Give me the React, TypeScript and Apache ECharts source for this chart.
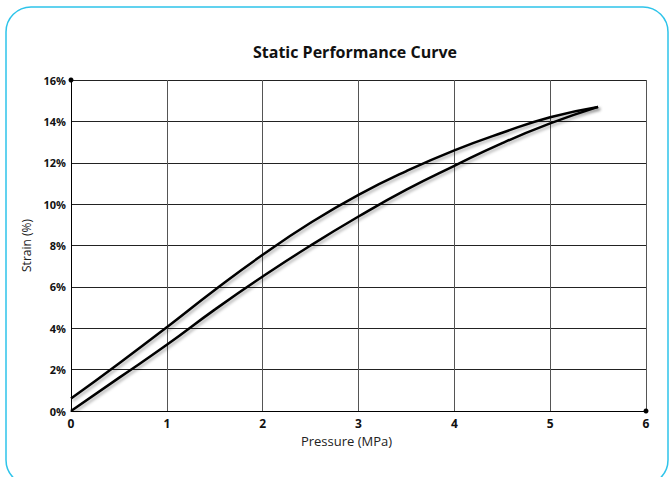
import React, { useEffect, useRef } from "react";
import * as echarts from "echarts";

const pressure = [0, 0.5, 1, 1.5, 2, 2.5, 3, 3.5, 4, 4.5, 5, 5.5];
const loadingStrain = [0, 1.6, 3.2, 4.9, 6.5, 8.0, 9.4, 10.7, 11.85, 12.95, 13.9, 14.7];
const unloadingStrain = [0.6, 2.3, 4.05, 5.85, 7.55, 9.1, 10.45, 11.6, 12.6, 13.45, 14.2, 14.7];
const title = "Static Performance Curve";
const xName = "Pressure (MPa)";
const yName = "Strain (%)";

export default function App() {
  const ref = useRef<HTMLDivElement>(null);
  useEffect(() => {
    if (!ref.current) return;
    const chart = echarts.init(ref.current, null, { renderer: "svg" });
    const font = "'Open Sans', 'Noto Sans', sans-serif";
    const lineStyle = {
      color: "#000",
      width: 2.5,
      shadowColor: "rgba(0,0,0,0.3)",
      shadowBlur: 3,
      shadowOffsetX: 2,
      shadowOffsetY: 2,
    };
    chart.setOption({
      animation: false,
      backgroundColor: "#fff",
      title: {
        text: title,
        left: 350,
        textAlign: "center",
        top: 39,
        textStyle: { fontFamily: font, fontWeight: "bold", fontSize: 16, color: "#111" },
      },
      graphic: [
        {
          type: "rect",
          shape: { x: 6, y: 7, width: 662, height: 478, r: 25 },
          style: { fill: "none", stroke: "#2ec4ea", lineWidth: 1.5 },
          silent: true,
        },
      ],
      grid: { left: 71, right: 24, top: 80, bottom: 66 },
      xAxis: {
        type: "value",
        min: 0,
        max: 6,
        interval: 1,
        name: xName,
        nameLocation: "middle",
        nameGap: 23,
        nameTextStyle: { fontFamily: font, fontSize: 13, color: "#222", padding: [0, 24, 0, 0] },
        axisLine: { show: true, symbol: ["none", "circle"], symbolSize: [5, 5], lineStyle: { color: "#000", width: 1 } },
        axisTick: { show: false },
        axisLabel: { fontFamily: font, fontWeight: "bold", fontSize: 12, color: "#111", margin: 6 },
        splitLine: { show: true, lineStyle: { color: "#555", width: 1 } },
      },
      yAxis: {
        type: "value",
        min: 0,
        max: 16,
        interval: 2,
        name: yName,
        nameLocation: "middle",
        nameGap: 33,
        nameRotate: 90,
        nameTextStyle: { fontFamily: font, fontSize: 12, color: "#222" },
        axisLine: { show: true, symbol: ["none", "circle"], symbolSize: [5, 5], lineStyle: { color: "#000", width: 1 } },
        axisTick: { show: false },
        axisLabel: {
          fontFamily: font,
          fontWeight: "bold",
          fontSize: 11,
          color: "#111",
          margin: 5,
          formatter: (v: number) => v + "%",
        },
        splitLine: { show: true, lineStyle: { color: "#222", width: 1 } },
      },
      series: [
        {
          type: "line",
          name: "Loading",
          data: pressure.map((p, i) => [p, loadingStrain[i]]),
          smooth: 0.5,
          showSymbol: false,
          lineStyle,
        },
        {
          type: "line",
          name: "Unloading",
          data: pressure.map((p, i) => [p, unloadingStrain[i]]),
          smooth: 0.5,
          showSymbol: false,
          lineStyle,
        },
      ],
    });
    return () => chart.dispose();
  }, []);
  return (
    <div
      ref={ref}
      style={{ position: "fixed", left: 0, top: 0, width: 670, height: 477 }}
    />
  );
}
